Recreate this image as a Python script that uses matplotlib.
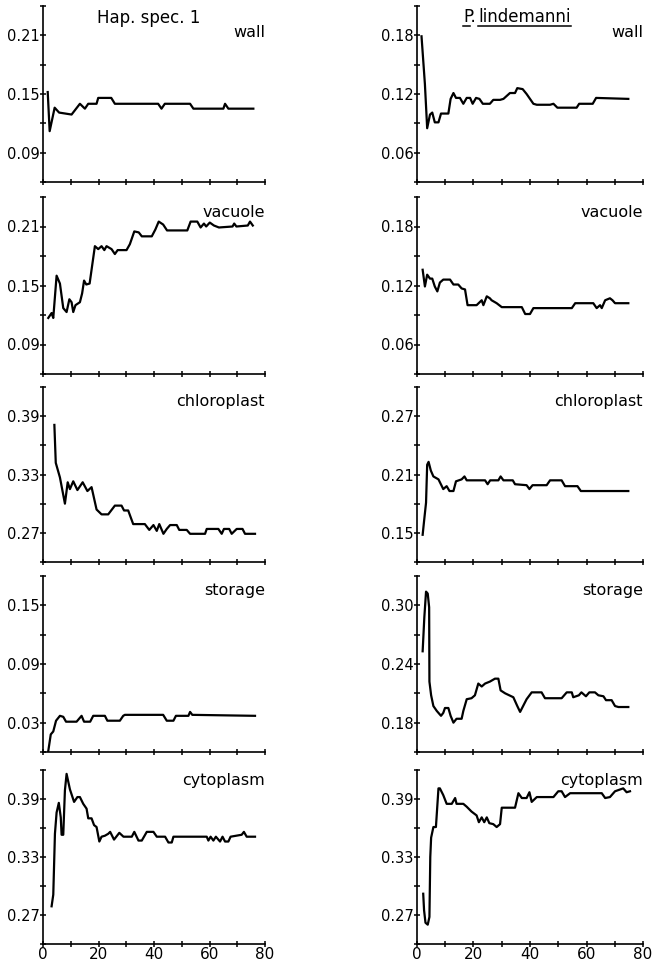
import matplotlib
matplotlib.use("Agg")
import matplotlib.pyplot as plt
from matplotlib.lines import Line2D
from matplotlib.ticker import MultipleLocator, FormatStrFormatter

plt.rcParams['font.family'] = ['DejaVu Sans']

# ---- Hap. spec. 1 (left column) ----
hap_wall_x = [1.7, 2.4, 4.2, 5.8, 10.3, 13.3, 15.1, 16.3, 19.3, 19.9, 24.6, 25.9, 41.5, 42.7, 43.9,
              53.0, 54.2, 65.0, 65.6, 66.8, 75.8]
hap_wall_y = [0.152, 0.112, 0.136, 0.131, 0.129, 0.140, 0.135, 0.140, 0.140, 0.146, 0.146, 0.140,
              0.140, 0.135, 0.140, 0.140, 0.135, 0.135, 0.140, 0.135, 0.135]

hap_vac_x = [1.9, 3.1, 3.7, 4.9, 6.1, 7.3, 8.5, 9.5, 10.3, 10.9, 11.7, 13.3, 14.1, 14.8, 15.6, 16.8,
             17.7, 18.7, 19.9, 21.1, 22.1, 22.9, 24.7, 25.9, 26.9, 30.1, 31.3, 32.9, 34.5, 35.6, 39.2,
             40.5, 41.7, 43.3, 44.7, 52.0, 53.2, 55.6, 56.8, 58.0, 58.8, 60.1, 61.6, 63.4, 68.3, 68.9,
             69.7, 73.8, 74.6, 75.6]
hap_vac_y = [0.117, 0.122, 0.117, 0.160, 0.152, 0.127, 0.123, 0.136, 0.133, 0.123, 0.130, 0.133,
             0.142, 0.155, 0.151, 0.152, 0.170, 0.190, 0.187, 0.190, 0.186, 0.190, 0.187, 0.182,
             0.186, 0.186, 0.192, 0.205, 0.204, 0.200, 0.200, 0.207, 0.215, 0.212, 0.206, 0.206,
             0.215, 0.215, 0.209, 0.213, 0.210, 0.214, 0.211, 0.209, 0.210, 0.213, 0.210, 0.211,
             0.215, 0.211]

hap_chl_x = [4.1, 4.6, 6.1, 7.9, 8.9, 9.7, 10.9, 12.4, 14.3, 16.0, 17.5, 19.3, 21.1, 23.5, 25.9,
             28.3, 29.2, 30.7, 32.5, 36.7, 38.3, 39.8, 41.0, 41.9, 43.4, 44.6, 45.8, 48.2, 49.1, 51.8,
             53.0, 58.4, 59.0, 63.2, 64.4, 65.2, 67.1, 68.0, 69.8, 71.9, 72.8, 76.4]
hap_chl_y = [0.381, 0.342, 0.327, 0.300, 0.322, 0.315, 0.323, 0.314, 0.322, 0.313, 0.317, 0.294,
             0.289, 0.289, 0.298, 0.298, 0.293, 0.293, 0.279, 0.279, 0.273, 0.278, 0.272, 0.279,
             0.269, 0.274, 0.278, 0.278, 0.273, 0.273, 0.269, 0.269, 0.274, 0.274, 0.269, 0.274,
             0.274, 0.269, 0.274, 0.274, 0.269, 0.269]

hap_sto_x = [1.9, 2.8, 3.7, 4.7, 6.1, 7.3, 8.3, 12.1, 13.9, 14.8, 17.0, 18.1, 22.3, 23.2, 27.7, 28.9,
             29.5, 43.3, 44.6, 47.0, 47.9, 52.4, 53.0, 53.8, 76.4]
hap_sto_y = [0.001, 0.018, 0.021, 0.032, 0.037, 0.036, 0.031, 0.031, 0.037, 0.031, 0.031, 0.037,
             0.037, 0.032, 0.032, 0.037, 0.038, 0.038, 0.032, 0.032, 0.037, 0.037, 0.041, 0.038,
             0.037]

hap_cyt_x = [3.1, 3.7, 4.3, 4.9, 5.7, 6.4, 6.7, 7.3, 7.9, 8.5, 9.7, 11.2, 12.4, 13.3, 14.5, 15.7,
             16.3, 17.5, 18.4, 19.3, 20.3, 21.1, 22.3, 23.5, 24.2, 25.6, 27.5, 29.0, 32.0, 32.9, 34.4,
             35.6, 37.4, 39.8, 41.0, 44.0, 45.2, 46.4, 47.0, 59.0, 59.6, 60.4, 61.4, 62.3, 63.8, 64.7,
             65.6, 66.8, 67.6, 71.6, 72.4, 73.4, 76.4]
hap_cyt_y = [0.279, 0.291, 0.354, 0.376, 0.386, 0.371, 0.353, 0.353, 0.399, 0.416, 0.400, 0.387,
             0.392, 0.392, 0.385, 0.380, 0.370, 0.370, 0.363, 0.361, 0.346, 0.351, 0.352, 0.354,
             0.356, 0.348, 0.355, 0.351, 0.351, 0.356, 0.347, 0.347, 0.356, 0.356, 0.351, 0.351,
             0.345, 0.345, 0.351, 0.351, 0.347, 0.351, 0.347, 0.351, 0.346, 0.351, 0.346, 0.346,
             0.351, 0.353, 0.356, 0.351, 0.351]

# ---- P. lindemanni (right column) ----
lin_wall_x = [1.6, 2.8, 3.6, 4.6, 5.4, 6.3, 7.6, 8.5, 11.1, 11.9, 12.9, 13.8, 15.2, 16.4, 17.6, 18.8,
              19.7, 20.9, 22.1, 23.3, 25.8, 27.0, 29.4, 30.6, 32.9, 34.7, 35.5, 37.4, 38.8, 41.2, 42.4,
              47.1, 48.3, 49.7, 56.5, 57.4, 62.2, 63.4, 74.8]
lin_wall_y = [0.179, 0.130, 0.085, 0.099, 0.101, 0.091, 0.091, 0.100, 0.100, 0.115, 0.121, 0.116,
              0.116, 0.110, 0.116, 0.116, 0.110, 0.116, 0.115, 0.110, 0.110, 0.114, 0.114, 0.115,
              0.121, 0.121, 0.126, 0.125, 0.120, 0.110, 0.109, 0.109, 0.110, 0.106, 0.106, 0.110,
              0.110, 0.116, 0.115]

lin_vac_x = [2.0, 2.8, 3.6, 4.6, 5.4, 6.3, 7.2, 8.1, 9.3, 11.7, 12.9, 14.6, 15.8, 17.0, 17.9, 21.1,
             22.9, 23.5, 24.7, 25.8, 26.4, 28.2, 30.0, 37.1, 38.3, 40.0, 41.2, 54.8, 56.0, 62.4, 63.6,
             64.8, 65.4, 66.6, 68.3, 69.2, 70.1, 74.8]
lin_vac_y = [0.136, 0.119, 0.131, 0.127, 0.127, 0.119, 0.114, 0.123, 0.126, 0.126, 0.121, 0.121,
             0.117, 0.116, 0.100, 0.100, 0.105, 0.100, 0.109, 0.107, 0.105, 0.102, 0.098, 0.098,
             0.091, 0.091, 0.097, 0.097, 0.102, 0.102, 0.097, 0.100, 0.097, 0.105, 0.107, 0.105,
             0.102, 0.102]

lin_chl_x = [2.0, 2.5, 3.2, 3.6, 4.1, 4.9, 5.8, 7.6, 9.3, 10.5, 11.5, 12.9, 13.8, 15.8, 16.8, 17.6,
             24.1, 25.0, 25.9, 28.8, 29.6, 30.6, 33.9, 34.7, 38.8, 39.8, 40.9, 45.9, 47.1, 51.2, 52.4,
             56.8, 58.0, 74.8]
lin_chl_y = [0.148, 0.162, 0.181, 0.220, 0.223, 0.214, 0.208, 0.205, 0.195, 0.198, 0.193, 0.193,
             0.203, 0.205, 0.208, 0.204, 0.204, 0.200, 0.204, 0.204, 0.208, 0.204, 0.204, 0.200,
             0.199, 0.195, 0.199, 0.199, 0.204, 0.204, 0.198, 0.198, 0.193, 0.193]

lin_sto_x = [2.0, 2.6, 3.2, 3.8, 4.3, 4.4, 5.0, 5.8, 7.0, 7.6, 8.5, 9.3, 9.9, 11.1, 11.9, 12.9, 14.0,
             15.8, 16.4, 17.6, 19.3, 20.5, 21.7, 22.9, 24.1, 25.8, 27.6, 28.8, 29.6, 31.2, 34.1, 35.5,
             36.5, 38.8, 40.6, 44.1, 45.3, 51.2, 53.0, 54.8, 55.3, 57.3, 58.2, 59.8, 61.0, 63.0, 64.2,
             66.0, 66.9, 68.9, 70.1, 71.3, 74.8]
lin_sto_y = [0.253, 0.288, 0.314, 0.312, 0.298, 0.222, 0.208, 0.197, 0.192, 0.190, 0.187, 0.190,
             0.195, 0.195, 0.187, 0.180, 0.184, 0.184, 0.192, 0.204, 0.205, 0.208, 0.220, 0.217,
             0.220, 0.222, 0.225, 0.225, 0.213, 0.210, 0.206, 0.197, 0.191, 0.204, 0.211, 0.211,
             0.205, 0.205, 0.211, 0.211, 0.206, 0.208, 0.211, 0.207, 0.211, 0.211, 0.208, 0.207,
             0.203, 0.203, 0.197, 0.196, 0.196]

lin_cyt_x = [2.2, 2.5, 3.0, 3.8, 4.4, 4.7, 5.0, 5.8, 6.7, 7.6, 8.1, 9.3, 10.5, 12.3, 13.5, 14.0, 16.4,
             17.6, 19.3, 21.1, 21.9, 22.9, 23.8, 24.7, 25.6, 27.0, 28.2, 29.4, 30.0, 34.7, 35.9, 37.1,
             38.8, 39.8, 40.6, 42.4, 48.3, 50.0, 51.2, 52.4, 54.2, 65.4, 66.6, 68.3, 70.1, 73.0, 74.2,
             75.4]
lin_cyt_y = [0.292, 0.275, 0.262, 0.260, 0.268, 0.330, 0.350, 0.361, 0.361, 0.401, 0.401, 0.394,
             0.385, 0.385, 0.391, 0.385, 0.385, 0.382, 0.377, 0.373, 0.366, 0.371, 0.366, 0.371,
             0.365, 0.364, 0.361, 0.364, 0.381, 0.381, 0.396, 0.391, 0.391, 0.397, 0.387, 0.392,
             0.392, 0.398, 0.398, 0.392, 0.396, 0.396, 0.391, 0.392, 0.398, 0.401, 0.397, 0.398]

panel_names = ['wall', 'vacuole', 'chloroplast', 'storage', 'cytoplasm']
hap_series = [(hap_wall_x, hap_wall_y), (hap_vac_x, hap_vac_y), (hap_chl_x, hap_chl_y),
              (hap_sto_x, hap_sto_y), (hap_cyt_x, hap_cyt_y)]
lin_series = [(lin_wall_x, lin_wall_y), (lin_vac_x, lin_vac_y), (lin_chl_x, lin_chl_y),
              (lin_sto_x, lin_sto_y), (lin_cyt_x, lin_cyt_y)]
hap_ymin = [0.06, 0.06, 0.24, 0.0, 0.24]
lin_ymin = [0.03, 0.03, 0.12, 0.15, 0.24]
x_labels = [0, 20, 40, 60, 80]

fig = plt.figure(figsize=(6.54, 9.65), dpi=100)

# panel rows in pixels (top, bottom)
rows = [(6, 182), (197, 374), (387, 562), (576, 752), (770, 944)]
label_y = [0.85, 0.915, 0.92, 0.92, 0.94]
cols = [(43, 265), (417, 643)]
W, H = 654.0, 965.0


def style_axis(ax, ymin, bottom_row):
    ax.set_xlim(0, 80)
    ax.set_ylim(ymin, ymin + 0.18)
    for s in ['top', 'right']:
        ax.spines[s].set_visible(False)
    for s in ['left', 'bottom']:
        ax.spines[s].set_linewidth(1.2)
    ax.xaxis.set_major_locator(MultipleLocator(20))
    ax.xaxis.set_minor_locator(MultipleLocator(10))
    ax.yaxis.set_major_locator(MultipleLocator(0.06, offset=(ymin + 0.03) % 0.06))
    ax.yaxis.set_minor_locator(MultipleLocator(0.03))
    ax.yaxis.set_major_formatter(FormatStrFormatter('%.2f'))
    ax.tick_params(which='both', direction='inout', length=5, width=1.1, pad=1, labelsize=10.5)
    ax.tick_params(axis='y', which='both', pad=0)
    if bottom_row:
        ax.set_xticks(x_labels)
        ax.set_xticklabels([str(v) for v in x_labels], fontsize=11)
        ax.tick_params(axis='x', which='major', pad=0)
    else:
        ax.tick_params(axis='x', which='major', labelbottom=False)


for c, (series, ymins) in enumerate([(hap_series, hap_ymin), (lin_series, lin_ymin)]):
    x0, x1 = cols[c]
    for r, (top, bot) in enumerate(rows):
        ax = fig.add_axes([x0 / W, 1 - bot / H, (x1 - x0) / W, (bot - top) / H])
        xs, ys = series[r]
        ax.plot(xs, ys, color='black', lw=1.6)
        style_axis(ax, ymins[r], r == 4)
        ax.text(1.0, label_y[r], panel_names[r], transform=ax.transAxes, ha='right', va='center',
                fontsize=11.5)

# column titles
fig.text(149 / W, 1 - 18 / H, 'Hap. spec. 1', ha='center', va='center', fontsize=12)
t_p = fig.text(463 / W, 1 - 17 / H, 'P.', ha='left', va='center', fontsize=12)
t_l = fig.text(478 / W, 1 - 17 / H, 'lindemanni', ha='left', va='center', fontsize=12)

# underline the species name (separately under "P" and "lindemanni")
fig.canvas.draw()
renderer = fig.canvas.get_renderer()
uy = 1 - 26 / H
for t, trim in [(t_p, 0.45), (t_l, 0.0)]:
    bb = t.get_window_extent(renderer).transformed(fig.transFigure.inverted())
    x_end = bb.x1 - trim * (bb.x1 - bb.x0)
    fig.add_artist(Line2D([bb.x0, x_end], [uy, uy], color='black', lw=1.1))

fig.savefig('out.png', dpi=100)
